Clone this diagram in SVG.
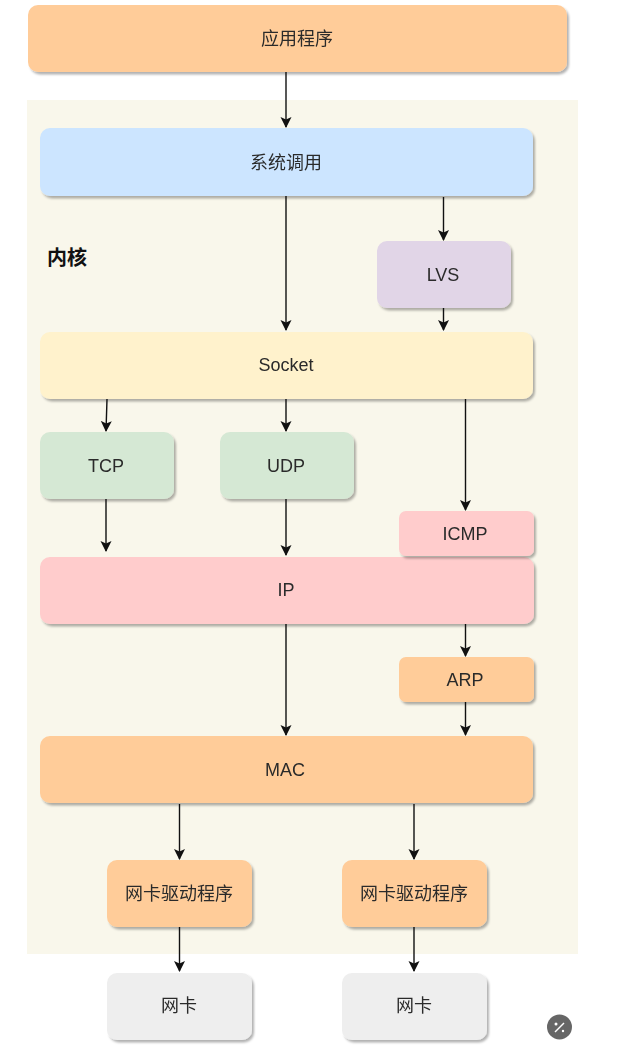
<svg xmlns="http://www.w3.org/2000/svg" width="627" height="1064" viewBox="0 0 627 1064">
<style>
.n{filter:url(#sh)}
.l{font-family:"Liberation Sans","Noto Sans CJK SC",sans-serif;font-size:18px;fill:#2b2b2b;text-anchor:middle}
.c line{stroke:#111;stroke-width:1.4;marker-end:url(#a)}
</style>
<defs>
<filter id="sh" x="-5%" y="-10%" width="110%" height="125%"><feDropShadow dx="2" dy="2.500" stdDeviation="0.800" flood-color="#000" flood-opacity="0.3"/></filter>
<marker id="a" markerUnits="userSpaceOnUse" markerWidth="13" markerHeight="13" refX="10" refY="5.500" orient="auto"><path d="M0 0L11 5.500L0 11L2.500 5.500Z" fill="#111"/></marker>
</defs>
<rect width="627" height="1064" fill="#fff"/>
<rect id="kernel-bg" x="27" y="100" width="551" height="854" fill="#f9f7eb"/>
<g id="kernel-label"><text x="67" y="265" font-family="'Liberation Sans','Noto Sans CJK SC',sans-serif" font-size="20" font-weight="bold" fill="#111" text-anchor="middle">内核</text></g>
<g id="app" class="n"><rect x="28" y="5" width="539" height="67" rx="10" fill="#ffcc99"/><text class="l" x="297" y="45">应用程序</text></g>
<g id="syscall" class="n"><rect x="40" y="128" width="493" height="68" rx="10" fill="#cce5ff"/><text class="l" x="286" y="169">系统调用</text></g>
<g id="lvs" class="n"><rect x="377" y="241" width="134" height="67" rx="10" fill="#e1d5e7"/><text class="l" x="443" y="281">LVS</text></g>
<g id="socket" class="n"><rect x="40" y="332" width="493" height="67" rx="10" fill="#fff2cc"/><text class="l" x="286" y="371">Socket</text></g>
<g id="tcp" class="n"><rect x="40" y="432" width="134" height="67" rx="10" fill="#d5e8d4"/><text class="l" x="106" y="472">TCP</text></g>
<g id="udp" class="n"><rect x="220" y="432" width="134" height="67" rx="10" fill="#d5e8d4"/><text class="l" x="286" y="472">UDP</text></g>
<g id="ip" class="n"><rect x="40" y="557" width="494" height="67" rx="10" fill="#ffcccc"/><text class="l" x="286" y="596">IP</text></g>
<g id="icmp" class="n"><rect x="399" y="511" width="135" height="45" rx="7" fill="#ffcccc"/><text class="l" x="465" y="540">ICMP</text></g>
<g id="arp" class="n"><rect x="399" y="657" width="135" height="45" rx="7" fill="#ffcc99"/><text class="l" x="465" y="686">ARP</text></g>
<g id="mac" class="n"><rect x="40" y="736" width="493" height="67" rx="10" fill="#ffcc99"/><text class="l" x="285" y="776">MAC</text></g>
<g id="driver1" class="n"><rect x="107" y="860" width="145" height="67" rx="10" fill="#ffcc99"/><text class="l" x="179" y="900">网卡驱动程序</text></g>
<g id="driver2" class="n"><rect x="342" y="860" width="145" height="67" rx="10" fill="#ffcc99"/><text class="l" x="414" y="900">网卡驱动程序</text></g>
<g id="nic1" class="n"><rect x="107" y="973" width="145" height="67" rx="10" fill="#eeeeee"/><text class="l" x="179" y="1012">网卡</text></g>
<g id="nic2" class="n"><rect x="342" y="973" width="145" height="67" rx="10" fill="#eeeeee"/><text class="l" x="414" y="1012">网卡</text></g>
<g id="connectors" class="c">
<line x1="286" y1="72" x2="286" y2="127"/>
<line x1="286" y1="196" x2="286" y2="330"/>
<line x1="443.500" y1="197" x2="443.500" y2="240"/>
<line x1="443.500" y1="308" x2="443.500" y2="330"/>
<line x1="107" y1="399" x2="106" y2="431"/>
<line x1="286" y1="399" x2="286" y2="431"/>
<line x1="465.500" y1="399" x2="465.500" y2="510"/>
<line x1="106" y1="499" x2="106" y2="551"/>
<line x1="286" y1="499" x2="286" y2="555"/>
<line x1="286" y1="624" x2="286" y2="735"/>
<line x1="465.500" y1="624" x2="465.500" y2="656"/>
<line x1="465.500" y1="702" x2="465.500" y2="735"/>
<line x1="179.500" y1="804" x2="179.500" y2="859"/>
<line x1="414" y1="804" x2="414" y2="859"/>
<line x1="179.500" y1="927" x2="179.500" y2="971"/>
<line x1="414" y1="927" x2="414" y2="971"/>
</g>
<g id="badge"><circle cx="559.500" cy="1027" r="12.500" fill="#666"/><path d="M555 1032L564 1023" stroke="#fff" stroke-width="1.500"/><circle cx="556" cy="1024" r="1.500" fill="#fff"/><circle cx="563" cy="1031" r="1.200" fill="#fff"/></g>
</svg>
